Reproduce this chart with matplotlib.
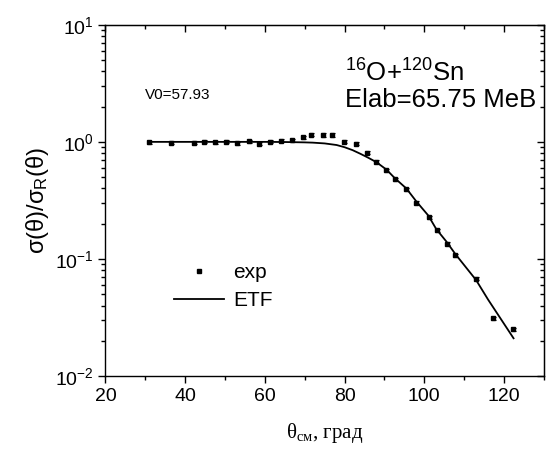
import numpy as np
import matplotlib.pyplot as plt
from matplotlib.lines import Line2D
from matplotlib.ticker import MultipleLocator, FixedLocator, FuncFormatter

plt.rcParams['font.family'] = ['Liberation Sans', 'DejaVu Sans']
plt.rcParams['mathtext.fontset'] = 'custom'
plt.rcParams['mathtext.rm'] = 'Liberation Sans'
plt.rcParams['mathtext.it'] = 'Liberation Sans:italic'

# ---------------- DATA ----------------
theta_exp = [30.9, 36.5, 42.2, 44.7, 47.5, 50.2, 52.9, 55.9, 58.6, 61.2,
             64.0, 66.9, 69.5, 71.6, 74.5, 76.9, 79.8, 82.8, 85.7, 87.9,
             90.5, 92.6, 95.5, 98.0, 101.1, 103.1, 105.6, 107.8, 112.9,
             117.2, 122.2]
sig_exp = [0.99, 0.982, 0.982, 1.0, 0.996, 1.002, 0.977, 1.01, 0.963, 1.002,
           1.022, 1.03, 1.09, 1.15, 1.145, 1.145, 1.0, 0.965, 0.81, 0.675,
           0.57, 0.478, 0.392, 0.302, 0.228, 0.175, 0.135, 0.108, 0.068,
           0.031, 0.025]
err_rel = 0.03

theta_etf = [30.9, 40, 50, 60, 65, 70, 72, 75, 78, 80, 82, 84, 86, 88,
             90.5, 92.6, 95.5, 98, 101, 103, 105.6, 107.8, 113, 116, 122.4]
sig_etf = [1.0, 1.0, 1.0, 1.0, 0.997, 0.99, 0.985, 0.97, 0.94, 0.9, 0.85,
           0.79, 0.73, 0.67, 0.58, 0.49, 0.40, 0.31, 0.235, 0.18, 0.14,
           0.11, 0.066, 0.045, 0.021]

# ---------------- FIGURE ----------------
fig = plt.figure(figsize=(5.5, 4.51), dpi=100)
ax = fig.add_axes([0.1918, 0.1663, 0.797, 0.7787])

ax.errorbar(theta_exp, sig_exp, yerr=np.array(sig_exp) * err_rel, fmt='s',
            color='black', ms=3.2, elinewidth=0.8, capsize=1.8, capthick=0.8)
ax.plot(theta_etf, sig_etf, '-', color='black', lw=1.3)

ax.set_yscale('log')
ax.set_xlim(20, 130)
ax.set_ylim(1e-2, 1e1)

ax.xaxis.set_major_locator(FixedLocator([20, 40, 60, 80, 100, 120]))
ax.xaxis.set_minor_locator(MultipleLocator(10))
ax.yaxis.set_major_formatter(
    FuncFormatter(lambda v, p: r'$\mathregular{10^{%d}}$' % int(round(np.log10(v)))))

ax.tick_params(which='both', direction='out', top=False, right=False,
               labelsize=14, width=1)
ax.tick_params(which='major', length=5)
ax.tick_params(which='minor', length=3)
for s in ax.spines.values():
    s.set_linewidth(1)

# mirrored axes with inward ticks
top = ax.secondary_xaxis('top')
top.xaxis.set_major_locator(FixedLocator([20, 40, 60, 80, 100, 120]))
top.xaxis.set_minor_locator(MultipleLocator(10))
top.tick_params(which='both', direction='in', labeltop=False, width=1)
top.tick_params(which='major', length=5)
top.tick_params(which='minor', length=3)
right = ax.secondary_yaxis('right')
right.tick_params(which='both', direction='in', labelright=False, width=1)
right.tick_params(which='major', length=5)
right.tick_params(which='minor', length=3)

ax.set_ylabel(r'σ(θ)/σ$_{\mathregular{R}}$(θ)', fontsize=17, labelpad=3)
ax.set_xlabel(r'θ$_{\mathregular{см}}$, град', fontsize=15,
              family='Liberation Serif', labelpad=12)

ax.text(30, 2.5, 'V0=57.93', fontsize=11, va='center')
ax.text(80.1, 3.25, r'$\mathregular{^{16}}$O+$\mathregular{^{120}}$Sn',
        fontsize=18.5, va='baseline')
ax.text(80.1, 2.0, 'Elab=65.75 MeB', fontsize=18.5, va='baseline',
        clip_on=False)

handles = [Line2D([], [], ls='none', marker='s', ms=3.2, color='black'),
           Line2D([], [], ls='-', lw=1.3, color='black')]
ax.legend(handles, ['exp', 'ETF'], loc='upper left',
          bbox_to_anchor=(174 / 550, 1 - 263 / 451),
          bbox_transform=fig.transFigure, frameon=False, borderpad=0,
          borderaxespad=0, fontsize=15, handlelength=2.4, handletextpad=0.45,
          labelspacing=0.45)

fig.savefig('out.png', dpi=100)
